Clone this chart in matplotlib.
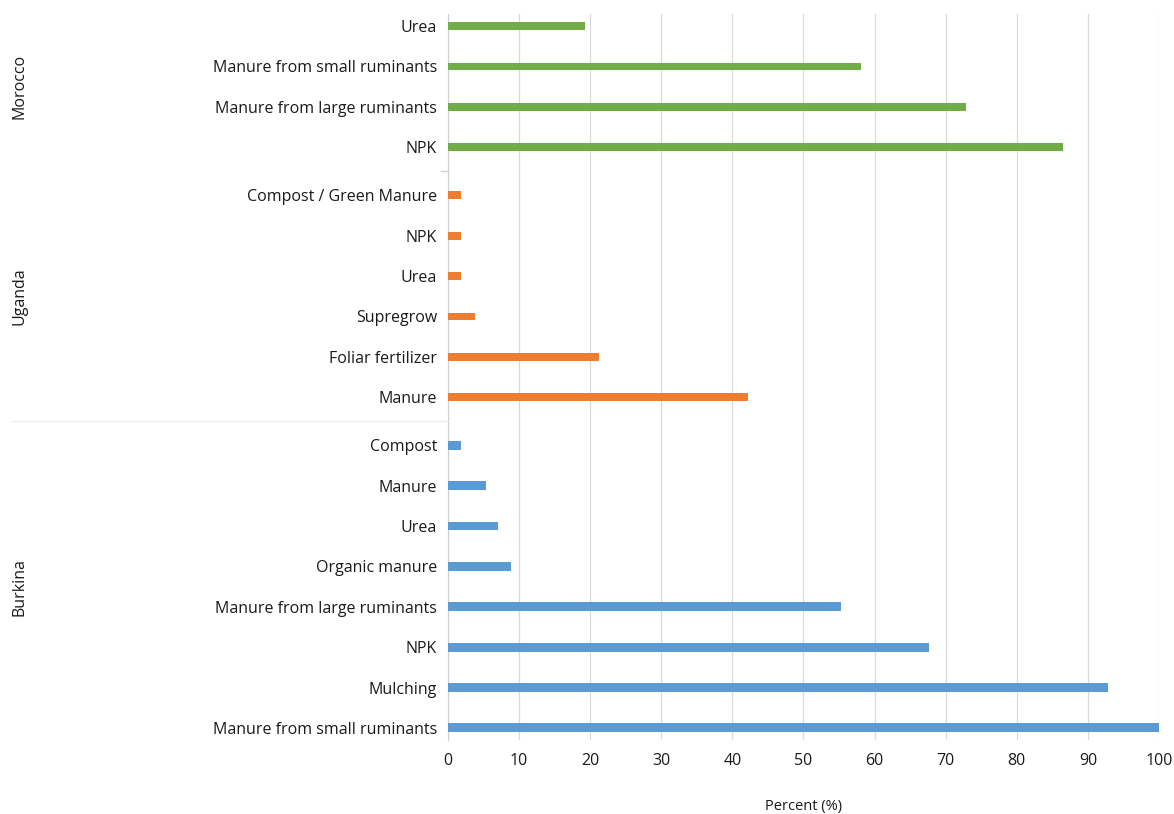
import matplotlib.pyplot as plt

# data, top to bottom within each country
morocco_labels = ['Urea', 'Manure from small ruminants', 'Manure from large ruminants', 'NPK']
morocco_values = [19.2, 58.1, 72.9, 86.5]

uganda_labels = ['Compost / Green Manure', 'NPK', 'Urea', 'Supregrow', 'Foliar fertilizer', 'Manure']
uganda_values = [1.8, 1.8, 1.8, 3.8, 21.2, 42.2]

burkina_labels = ['Compost', 'Manure', 'Urea', 'Organic manure', 'Manure from large ruminants',
                  'NPK', 'Mulching', 'Manure from small ruminants']
burkina_values = [1.8, 5.4, 7.1, 8.9, 55.3, 67.7, 92.8, 100]

countries = ['Morocco', 'Uganda', 'Burkina']
colors = ['#70AD47', '#ED7D31', '#5B9BD5']

plt.rcParams['font.family'] = ['Open Sans', 'DejaVu Sans']

fig = plt.figure(figsize=(11.74, 8.14), dpi=100)
ax = fig.add_axes([0.3816, 0.0909, 0.6056, 0.8919])

groups = [(burkina_labels, burkina_values), (uganda_labels, uganda_values), (morocco_labels, morocco_values)]
group_colors = colors[::-1]
group_names = countries[::-1]
heights = [0.22, 0.19, 0.19]
gap = 1.19

ticks, ticklabels = [], []
start = 0.0
bounds = []
for (labels, values), c, h in zip(groups, group_colors, heights):
    n = len(labels)
    ys = [start + (n - 1 - i) for i in range(n)]
    ax.barh(ys, values, height=h, color=c, zorder=3)
    ticks += ys
    ticklabels += labels
    bounds.append((start, start + n - 1))
    start += n - 1 + gap

ax.set_ylim(-0.3, bounds[-1][1] + 0.3)
ax.set_xlim(0, 100)
ax.set_yticks(ticks)
ax.set_yticklabels(ticklabels, fontsize=11.5, color='#1a1a1a')
ax.set_xticks(range(0, 101, 10))
ax.tick_params(axis='x', length=0, labelsize=11.5, labelcolor='#1a1a1a', pad=9)
ax.tick_params(axis='y', length=0, pad=8)
ax.grid(axis='x', color='#D9D9D9', linewidth=0.9, zorder=0)
for s in ['top', 'right', 'bottom']:
    ax.spines[s].set_visible(False)
ax.spines['left'].set_color('#D0D0D0')

ax.set_xlabel('Percent (%)', fontsize=10.5, color='#1a1a1a', labelpad=22)

# country labels and separators
to_fig = ax.transData + fig.transFigure.inverted()
for (lo, hi), name in zip(bounds, group_names):
    yc = to_fig.transform((0, (lo + hi) / 2))[1]
    fig.text(0.017, yc, name, rotation=90, ha='center', va='center', fontsize=11.5, color='#1a1a1a')

sep_y = (bounds[0][1] + bounds[1][0]) / 2
ys_fig = to_fig.transform((0, sep_y))[1]
fig.add_artist(plt.Line2D([0.01, 0.3816], [ys_fig, ys_fig], color='#EEEEEE', linewidth=1))
sep_y2 = (bounds[1][1] + bounds[2][0]) / 2
ys_fig2 = to_fig.transform((0, sep_y2))[1]
fig.add_artist(plt.Line2D([0.376, 0.3816], [ys_fig2, ys_fig2], color='#D0D0D0', linewidth=1))

fig.savefig('out.png', dpi=100)
